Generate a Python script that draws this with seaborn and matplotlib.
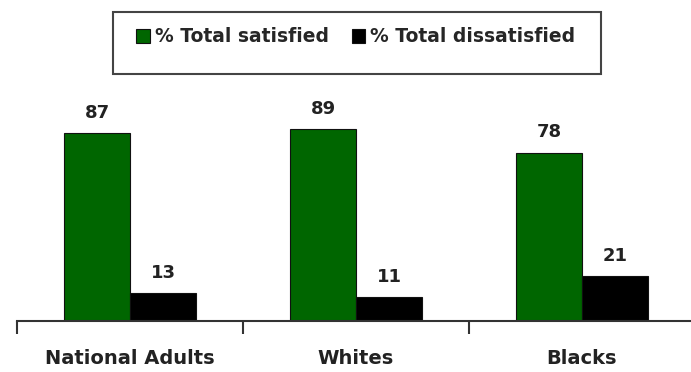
import matplotlib
matplotlib.use("Agg")
import matplotlib.pyplot as plt
import seaborn as sns
import pandas as pd
from matplotlib.patches import Rectangle

# Dados do gráfico
grupos = ["National Adults", "Whites", "Blacks"]
satisfeitos = [87, 89, 78]
insatisfeitos = [13, 11, 21]
series = ["% Total satisfied", "% Total dissatisfied"]

df = pd.DataFrame({
    "Grupo": grupos * 2,
    "Serie": [series[0]] * 3 + [series[1]] * 3,
    "Valor": satisfeitos + insatisfeitos,
})

sns.set_style("white")
plt.rcParams["font.family"] = ["DejaVu Sans"]
plt.rcParams["font.weight"] = "bold"

fig = plt.figure(figsize=(6.91, 3.72), dpi=100)
W, H = 691, 372
ax = fig.add_axes([17 / W, 51 / H, 674 / W, 216 / H])

sns.barplot(data=df, x="Grupo", y="Valor", hue="Serie", order=grupos,
            hue_order=series, palette=["#006600", "#000000"],
            width=0.584, gap=0, edgecolor="#111111", linewidth=0.8,
            saturation=1, ax=ax, legend=True)

for cont in ax.containers:
    ax.bar_label(cont, padding=8, fontsize=13, fontweight="bold", color="#222222")

ax.set_ylim(0, 100)
ax.set_xlim(-0.5, -0.5 + 674 / 226)
ax.set_xlabel("")
ax.set_ylabel("")
ax.set_yticks([])
ax.set_xticks([-0.5, 0.5, 1.5], minor=False)
ax.set_xticklabels([])
ax.set_xticks([0, 1, 2], minor=True)
ax.set_xticklabels(grupos, minor=True, fontsize=14, fontweight="bold", color="#222222")
ax.tick_params(axis="x", which="major", bottom=True, direction="out", length=9,
               width=1.5, color="#333333")
ax.tick_params(axis="x", which="minor", bottom=True, length=0, pad=20)
for lado in ["top", "right", "left"]:
    ax.spines[lado].set_visible(False)
ax.spines["bottom"].set_color("#333333")
ax.spines["bottom"].set_linewidth(1.5)

# Legenda com moldura desenhada à parte
handles, labels = ax.get_legend_handles_labels()
ax.legend_.remove()
fig.legend(handles, labels, loc="center", ncol=2, frameon=False,
           bbox_to_anchor=(356 / W, 1 - 37 / H),
           handlelength=0.7, handleheight=0.7, handletextpad=0.3,
           columnspacing=1.2, prop={"weight": "bold", "size": 13.5})
fig.patches.append(Rectangle((113 / W, 1 - 74 / H), 488 / W, 62 / H,
                             transform=fig.transFigure, fill=False,
                             edgecolor="#444444", linewidth=1.5))

plt.savefig("out.png", dpi=100)
plt.close()
